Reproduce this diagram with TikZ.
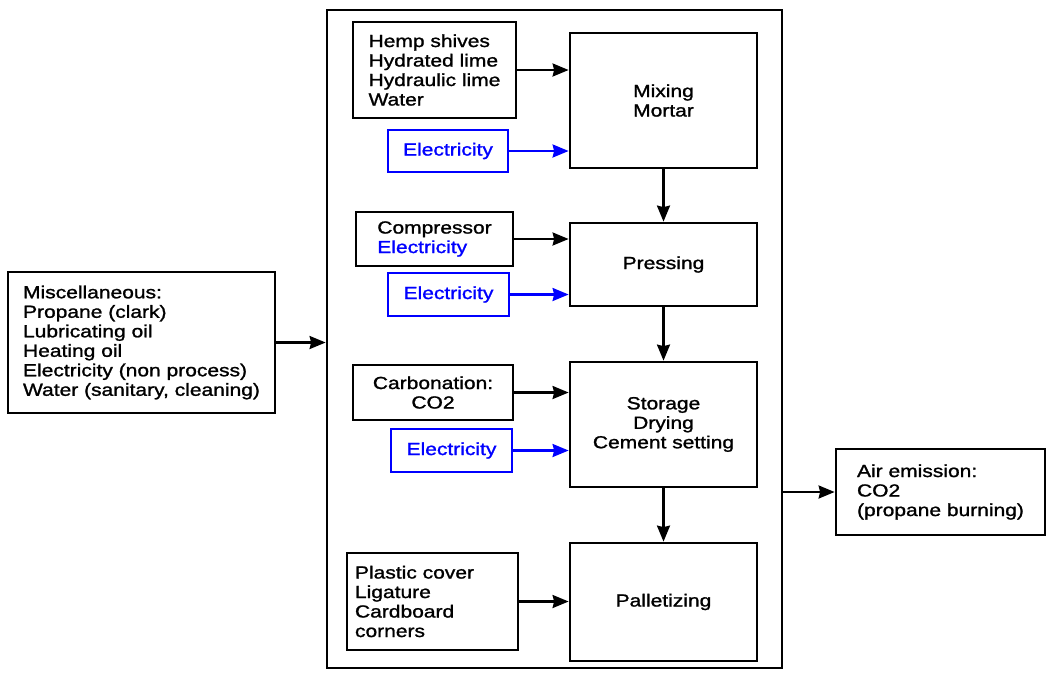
\documentclass[tikz,border=0pt]{standalone}
\usepackage{fontspec}
\setmainfont{Liberation Sans}[FakeStretch=1.2,FakeBold=1.3]
\usetikzlibrary{arrows.meta}
\definecolor{eblue}{RGB}{0,0,255}
\begin{document}
\begin{tikzpicture}[x=1pt,y=-1pt,
  box/.style={draw, line width=2.8pt, inner sep=0pt, align=center,
    font=\fontsize{17.5}{19.5}\selectfont},
  ebox/.style={box, draw=eblue, text=eblue, line width=2.4pt},
  flow/.style={line width=2.2pt, -{Stealth[inset=1.5pt,length=16pt,width=13pt]}},
  eflow/.style={flow, draw=eblue}]
\useasboundingbox (0,0) rectangle (1052,673);
\node[box, minimum width=455pt, minimum height=658pt] (outer) at (554.5,339) {};
\node[box, align=left, minimum width=267pt, minimum height=141pt] (misc) at (141.5,342.5)
  {Miscellaneous:\\Propane (clark)\\Lubricating oil\\Heating oil\\Electricity (non process)\\Water (sanitary, cleaning)};
\node[box, align=left, minimum width=209pt, minimum height=86pt] (air) at (940.5,492)
  {Air emission:\\CO2\\(propane burning)};
\node[box, align=left, minimum width=163pt, minimum height=96pt] (hemp) at (434.5,70)
  {Hemp shives\\Hydrated lime\\Hydraulic lime\\Water};
\node[ebox, minimum width=120pt, minimum height=42pt] (e1) at (448,151) {Electricity};
\node[box, align=left, minimum width=157pt, minimum height=54pt] (comp) at (434.5,239)
  {Compressor\\\textcolor{eblue}{Electricity}};
\node[ebox, minimum width=121pt, minimum height=43pt] (e2) at (448.5,294.5) {Electricity};
\node[box, minimum width=160pt, minimum height=55pt] (carb) at (433,392.5)
  {Carbonation:\\CO2};
\node[ebox, minimum width=121pt, minimum height=43pt] (e3) at (451.5,450.5) {Electricity};
\node[box, align=left, text width=155pt, inner xsep=8pt, minimum height=97pt] (plast) at (432.5,601.5)
  {Plastic cover\\Ligature\\Cardboard\\corners};
\node[box, minimum width=187pt, minimum height=135pt] (mix) at (663.5,100.5) {Mixing\\Mortar};
\node[box, minimum width=187pt, minimum height=83pt] (press) at (663.5,264.5) {Pressing};
\node[box, minimum width=187pt, minimum height=125pt] (stor) at (663.5,424.5)
  {Storage\\Drying\\Cement setting};
\node[box, minimum width=187pt, minimum height=118pt] (pall) at (663.5,602) {Palletizing};
\draw[flow] (hemp.east) -- (hemp.east -| mix.west);
\draw[eflow] (e1.east) -- (e1.east -| mix.west);
\draw[flow] (comp.east) -- (comp.east -| press.west);
\draw[eflow] (e2.east) -- (e2.east -| press.west);
\draw[flow] (carb.east) -- (carb.east -| stor.west);
\draw[eflow] (e3.east) -- (e3.east -| stor.west);
\draw[flow] (plast.east) -- (plast.east -| pall.west);
\draw[flow] (mix.south) -- (press.north);
\draw[flow] (press.south) -- (stor.north);
\draw[flow] (stor.south) -- (pall.north);
\draw[flow] (misc.east) -- (misc.east -| outer.west);
\draw[flow] (air.west -| outer.east) -- (air.west);
\end{tikzpicture}
\end{document}
